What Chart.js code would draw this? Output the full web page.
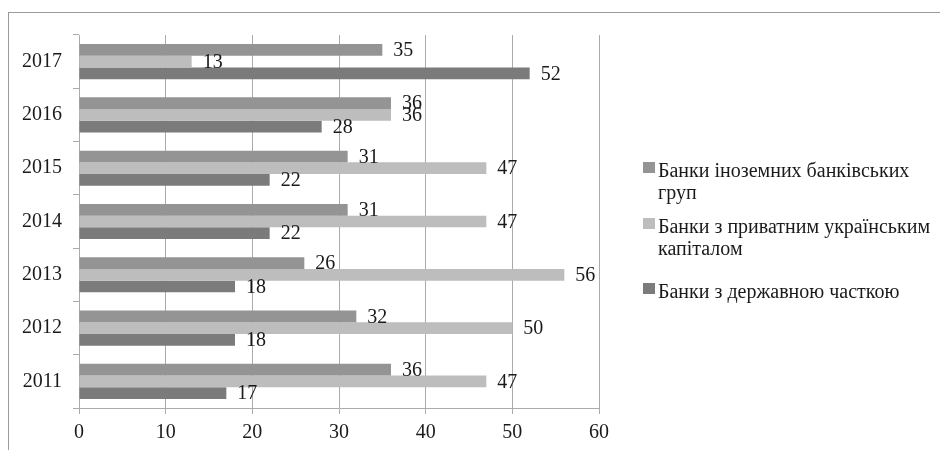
<!DOCTYPE html>
<html lang="en">
<head>
    <meta charset="UTF-8">
    <title>Банки за типом капіталу</title>
    <script src="https://cdn.jsdelivr.net/npm/chart.js"></script>
    <style>
        body {
            margin: 0;
            width: 940px;
            height: 450px;
            overflow: hidden;
            background: white;
            position: relative;
        }
        .frame {
            position: absolute;
            left: 8px;
            top: 12px;
            width: 940px;
            height: 450px;
            border-top: 1px solid #9a9a9a;
            border-left: 1px solid #9a9a9a;
        }
        .chart-box {
            position: absolute;
            left: 0;
            top: 0;
            width: 940px;
            height: 450px;
        }
    </style>
</head>
<body>
    <div class="frame"></div>
    <div class="chart-box"><canvas id="banksChart"></canvas></div>

    <script>
    // years from top to bottom, as in the picture
    const years = ['2017', '2016', '2015', '2014', '2013', '2012', '2011'];
    const foreignBanks = [35, 36, 31, 31, 26, 32, 36];
    const privateBanks = [13, 36, 47, 47, 56, 50, 47];
    const stateBanks = [52, 28, 22, 22, 18, 18, 17];
    const seriesNames = [
        'Банки іноземних банківських груп',
        'Банки з приватним українським капіталом',
        'Банки з державною часткою'
    ];
    const seriesColors = ['#949494', '#bdbdbd', '#7b7b7b'];
    const xTicks = [0, 10, 20, 30, 40, 50, 60];

    const serif = "'Liberation Serif'";
    const textColor = '#1a1a1a';

    // value labels to the right of every bar
    const valueLabels = {
        id: 'valueLabels',
        afterDatasetsDraw(chart) {
            const ctx = chart.ctx;
            ctx.save();
            ctx.font = '20px ' + serif;
            ctx.fillStyle = textColor;
            ctx.textAlign = 'left';
            ctx.textBaseline = 'middle';
            chart.data.datasets.forEach((ds, i) => {
                chart.getDatasetMeta(i).data.forEach((bar, j) => {
                    ctx.fillText(ds.data[j], bar.x + 11, bar.y + 1);
                });
            });
            ctx.restore();
        }
    };

    // legend on the right with wrapped labels (built-in legend can't wrap)
    const wrapLegend = {
        id: 'wrapLegend',
        afterDraw(chart) {
            const ctx = chart.ctx;
            const left = chart.chartArea.right + 44;
            const textX = left + 15;
            const maxW = chart.width - textX - 1;
            const lineH = 21.5;
            const gaps = [0, 13, 22];
            let y = 177;
            ctx.save();
            ctx.font = '20px ' + serif;
            ctx.textBaseline = 'alphabetic';
            ctx.textAlign = 'left';
            chart.data.datasets.forEach((ds, i) => {
                y += gaps[i];
                // split into lines that fit
                const words = ds.label.split(' ');
                const lines = [];
                let cur = '';
                words.forEach(w => {
                    const test = cur ? cur + ' ' + w : w;
                    if (cur && ctx.measureText(test).width > maxW) {
                        lines.push(cur);
                        cur = w;
                    } else {
                        cur = test;
                    }
                });
                lines.push(cur);

                ctx.fillStyle = ds.backgroundColor;
                ctx.fillRect(left, y - 15, 12, 11);
                ctx.fillStyle = textColor;
                lines.forEach(line => {
                    ctx.fillText(line, textX, y);
                    y += lineH;
                });
            });
            ctx.restore();
        }
    };

    new Chart(document.getElementById('banksChart'), {
        type: 'bar',
        data: {
            labels: years,
            datasets: [
                { label: seriesNames[0], data: foreignBanks, backgroundColor: seriesColors[0] },
                { label: seriesNames[1], data: privateBanks, backgroundColor: seriesColors[1] },
                { label: seriesNames[2], data: stateBanks, backgroundColor: seriesColors[2] }
            ]
        },
        options: {
            indexAxis: 'y',
            responsive: true,
            maintainAspectRatio: false,
            animation: false,
            datasets: {
                bar: { categoryPercentage: 0.66, barPercentage: 1.0 }
            },
            layout: { padding: { top: 35, right: 341, left: 0, bottom: 0 } },
            plugins: {
                legend: { display: false },
                tooltip: { enabled: false }
            },
            scales: {
                x: {
                    min: xTicks[0],
                    max: xTicks[xTicks.length - 1],
                    afterBuildTicks: scale => { scale.ticks = xTicks.map(v => ({ value: v })); },
                    afterFit: scale => { scale.height = 42; },
                    ticks: {
                        color: textColor,
                        padding: 7,
                        font: { family: serif, size: 20 }
                    },
                    grid: { color: '#ababab', tickLength: 6 },
                    border: { color: '#ababab' }
                },
                y: {
                    afterFit: scale => { scale.width = 79; },
                    ticks: {
                        color: textColor,
                        padding: 11,
                        font: { family: serif, size: 20 }
                    },
                    grid: { drawOnChartArea: false, color: '#ababab', tickLength: 6, offset: true },
                    border: { color: '#ababab' }
                }
            }
        },
        plugins: [valueLabels, wrapLegend]
    });
    </script>
</body>
</html>
